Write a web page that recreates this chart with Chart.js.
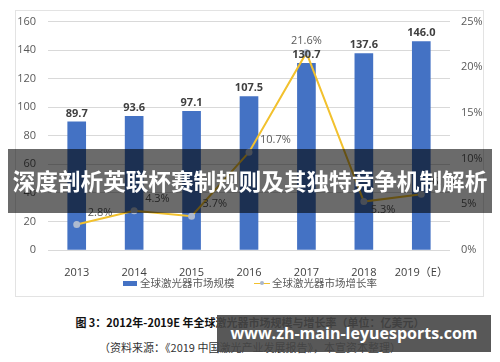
<!DOCTYPE html>
<html>
<head>
<meta charset="utf-8">
<script src="https://cdn.jsdelivr.net/npm/chart.js@4/dist/chart.umd.min.js"></script>
<style>
  html, body { margin: 0; padding: 0; background: #fff; }
  body { width: 500px; height: 362px; position: relative; overflow: hidden; font-family: "Noto Sans CJK SC", "Noto Sans", sans-serif; }
  #chartBox { position: absolute; left: 15px; top: 10px; width: 467px; height: 285px; border: 1px solid #e3e3e3; }
  #plotWrap { position: absolute; left: 0; top: -8px; width: 467px; height: 293px; }
  #legend { position: absolute; left: 0; top: 264px; width: 467px; height: 16px; font-size: 10.5px; color: #595959; }
  .lg { position: absolute; top: 0; line-height: 16px; white-space: nowrap; }
  .sw-bar { position: absolute; top: 6px; width: 14px; height: 5px; background: #4472C4; }
  .sw-line { position: absolute; top: 7.5px; width: 16px; height: 1.5px; background: #F2C12E; }
  .sw-line::after { content: ""; position: absolute; left: 6px; top: -1.5px; width: 4px; height: 4px; border-radius: 2px; background: #a9b6cc; }
  #banner { position: absolute; left: 8px; top: 149px; width: 484px; height: 64px; background: rgba(0,0,0,0.58);
    color: #fff; font-weight: bold; font-size: 22.6px; line-height: 64px; text-align: center; white-space: nowrap; letter-spacing: 0; }
  .cap { position: absolute; left: 0; width: 500px; text-align: center; white-space: nowrap; color: #111; }
  #cap1 { top: 314px; font-size: 11px; font-weight: bold; padding-right: 2px; }
  #cap2 { top: 339px; font-size: 11px; color: #333; }
  #mark { position: absolute; left: 217px; top: 315px; width: 274px; height: 37px; background: rgba(70,70,70,0.9);
    color: #fff; font-family: "Open Sans", sans-serif; font-weight: bold; font-size: 16px; line-height: 37px; text-align: center; white-space: nowrap; }
</style>
</head>
<body>
<div id="chartBox">
  <div id="plotWrap"><canvas id="marketChart"></canvas></div>
  <div id="legend">
    <span class="sw-bar" style="left:107px"></span><span class="lg" style="left:124px">全球激光器市场规模</span>
    <span class="sw-line" style="left:238px"></span><span class="lg" style="left:256px">全球激光器市场增长率</span>
  </div>
</div>
<div class="cap" id="cap1">图 3：2012年-2019E 年全球激光器市场规模与增长率（单位：亿美元）</div>
<div class="cap" id="cap2">（资料来源：《2019 中国激光产业发展报告》，本宣资本整理）</div>
<div id="banner">深度剖析英联杯赛制规则及其独特竞争机制解析</div>
<div id="mark">www.zh-main-leyuesports.com</div>
<script>
// Data
const years = ["2013", "2014", "2015", "2016", "2017", "2018", "2019（E）"];
const marketSize = [89.7, 93.6, 97.1, 107.5, 130.7, 137.6, 146.0];
const growthRate = [2.8, 4.3, 3.7, 10.7, 21.6, 5.3, 6.1];
const sizeTicks = [0, 20, 40, 60, 80, 100, 120, 140, 160];
const rateTicks = [0, 5, 10, 15, 20, 25];
// where each growth label sits relative to its point
const rateLabelPos = ["right", "right", "right", "right", "top", "below", "right"];

const tickColor = "#595959";
const gridColor = "#d9d9d9";

// Draws the value labels above bars and next to line points
const valueLabels = {
  id: "valueLabels",
  afterDatasetsDraw(chart) {
    const ctx = chart.ctx;
    ctx.save();
    const barMeta = chart.getDatasetMeta(1);
    ctx.font = "bold 11px 'Open Sans', sans-serif";
    ctx.fillStyle = "#404040";
    ctx.textAlign = "center";
    ctx.textBaseline = "bottom";
    barMeta.data.forEach((el, i) => {
      ctx.fillText(marketSize[i].toFixed(1), el.x, el.y - 3);
    });
    const lineMeta = chart.getDatasetMeta(0);
    ctx.font = "11px 'Open Sans', sans-serif";
    ctx.fillStyle = tickColor;
    ctx.textBaseline = "middle";
    lineMeta.data.forEach((el, i) => {
      const txt = growthRate[i].toFixed(1) + "%";
      const pos = rateLabelPos[i];
      if (pos === "top") {
        ctx.textAlign = "center";
        ctx.fillText(txt, el.x, el.y - 12);
      } else if (pos === "below") {
        ctx.textAlign = "left";
        ctx.fillText(txt, el.x + 7, el.y + 8);
      } else {
        ctx.textAlign = "left";
        ctx.fillText(txt, el.x + 11, el.y - 12);
      }
    });
    ctx.restore();
  }
};

new Chart(document.getElementById("marketChart"), {
  type: "bar",
  data: {
    labels: years,
    datasets: [
      {
        type: "line",
        label: "全球激光器市场增长率",
        data: growthRate,
        yAxisID: "yRate",
        borderColor: "#F2C12E",
        borderWidth: 2,
        pointRadius: 2.5,
        pointBackgroundColor: "#aebbd0",
        pointBorderColor: "#aebbd0",
        tension: 0,
        order: 0
      },
      {
        label: "全球激光器市场规模",
        data: marketSize,
        yAxisID: "ySize",
        backgroundColor: "#4472C4",
        barThickness: 18,
        order: 1
      }
    ]
  },
  options: {
    responsive: true,
    maintainAspectRatio: false,
    animation: false,
    layout: { padding: { top: 1, left: 0, right: 0, bottom: 0 } },
    plugins: { legend: { display: false }, tooltip: { enabled: false } },
    scales: {
      x: {
        grid: { display: false },
        border: { display: false },
        ticks: { color: "#404040", font: { size: 11, family: "'Open Sans', 'Noto Sans CJK SC', sans-serif" }, padding: 8,
          maxRotation: 0, minRotation: 0, autoSkip: false },
        afterFit(scale) { scale.height = 46; }
      },
      ySize: {
        position: "left",
        min: 0,
        max: 160,
        afterBuildTicks(scale) { scale.ticks = sizeTicks.map(v => ({ value: v })); },
        grid: { color: gridColor, drawTicks: false },
        border: { display: false },
        ticks: { color: tickColor, font: { size: 11, family: "'Open Sans', sans-serif" }, padding: 12 },
        afterFit(scale) { scale.width = 32; }
      },
      yRate: {
        position: "right",
        min: 0,
        max: 25,
        afterBuildTicks(scale) { scale.ticks = rateTicks.map(v => ({ value: v })); },
        grid: { display: false, drawTicks: false },
        border: { display: false },
        ticks: { color: tickColor, font: { size: 11, family: "'Open Sans', sans-serif" }, padding: 11, callback: v => v + "%" },
        afterFit(scale) { scale.width = 33; }
      }
    }
  },
  plugins: [valueLabels]
});
</script>
</body>
</html>
